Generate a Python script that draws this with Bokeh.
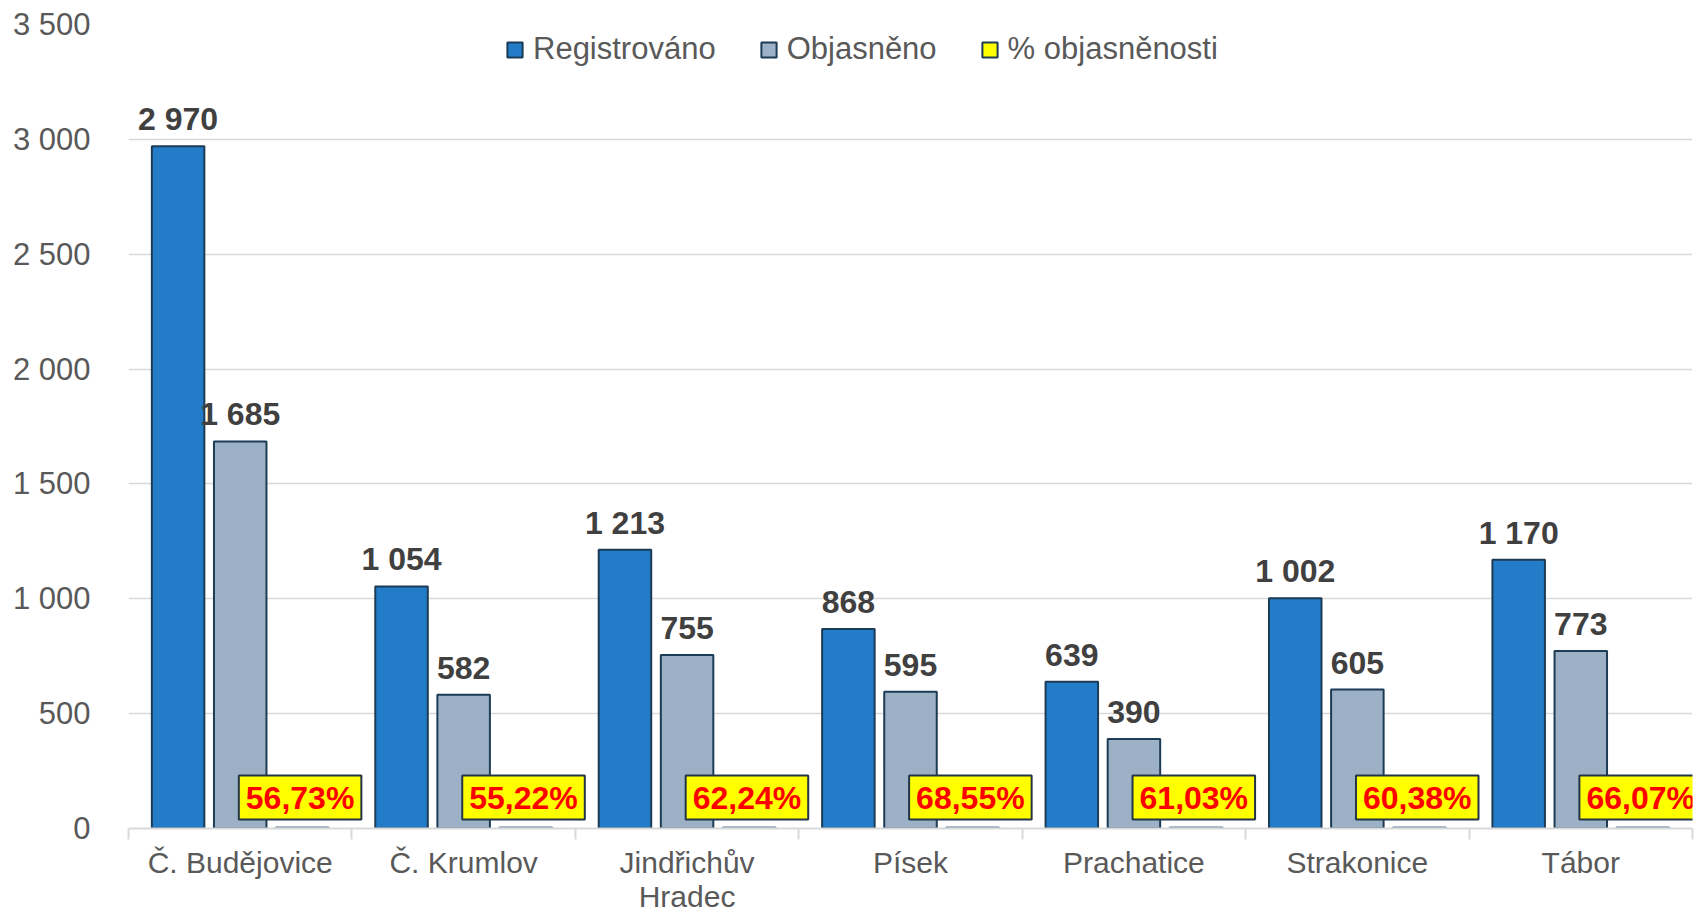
from bokeh.plotting import figure
from bokeh.models import ColumnDataSource, FixedTicker, LabelSet, Legend, LegendItem
from bokeh.core.properties import value
from bokeh.transform import dodge
from bokeh.embed import file_html
from bokeh.resources import INLINE

categories = ["Č. Budějovice", "Č. Krumlov", "Jindřichův\nHradec", "Písek",
              "Prachatice", "Strakonice", "Tábor"]
registrovano = [2970, 1054, 1213, 868, 639, 1002, 1170]
objasneno = [1685, 582, 755, 595, 390, 605, 773]
pct_objasnenosti = [56.73, 55.22, 62.24, 68.55, 61.03, 60.38, 66.07]
y_ticks = [0, 500, 1000, 1500, 2000, 2500, 3000, 3500]
y_tick_labels = ["0", "500", "1 000", "1 500", "2 000", "2 500", "3 000", "3 500"]
series_names = ["Registrováno", "Objasněno", "% objasněnosti"]

FONT = "Liberation Sans"

def fmt_int(v):
    return f"{v:,}".replace(",", " ")

def fmt_pct(v):
    return f"{v:.2f}".replace(".", ",") + "%"

xs = [i + 0.5 for i in range(len(categories))]
src = ColumnDataSource(dict(
    x=xs,
    reg=registrovano,
    obj=objasneno,
    pct=[v / 100 for v in pct_objasnenosti],
    reg_lbl=[fmt_int(v) for v in registrovano],
    obj_lbl=[fmt_int(v) for v in objasneno],
    pct_lbl=[fmt_pct(v) for v in pct_objasnenosti],
    zero=[0] * len(categories),
))

p = figure(width=1703, height=916, x_range=(0, len(categories)), y_range=(0, 3500),
           output_backend="svg", toolbar_location=None,
           min_border_left=128, min_border_right=11, min_border_top=24, min_border_bottom=87)
p.outline_line_color = None
p.background_fill_color = "white"
p.border_fill_color = "white"

W = 0.235
D = 0.278
r_reg = p.vbar(x=dodge("x", -D), top="reg", width=W, source=src,
               fill_color="#237cc8", line_color="#1c3b55", line_width=2)
r_obj = p.vbar(x=dodge("x", 0), top="obj", width=W, source=src,
               fill_color="#9db1c6", line_color="#1c3b55", line_width=2)
# legend proxy for the percentage series (drawn underneath the visible strip)
r_pct_leg = p.vbar(x=dodge("x", D), top="pct", width=W, source=src,
                   fill_color="#ffff00", line_color="#1c3b55", line_width=2)
r_pct = p.vbar(x=dodge("x", D), top="pct", width=W, source=src,
               fill_color="#ffff00", line_color="#8fa2b6", line_width=4)

# axes
p.xaxis.ticker = FixedTicker(ticks=xs, minor_ticks=list(range(len(categories) + 1)))
p.xaxis.major_label_overrides = {x: c for x, c in zip(xs, categories)}
p.xaxis.axis_line_color = "#d9d9d9"
p.xaxis.axis_line_width = 2
p.xaxis.major_tick_line_color = None
p.xaxis.minor_tick_line_color = "#d9d9d9"
p.xaxis.minor_tick_line_width = 2
p.xaxis.minor_tick_in = 0
p.xaxis.minor_tick_out = 11
p.xaxis.major_label_standoff = 6
p.xaxis.major_label_text_font = FONT
p.xaxis.major_label_text_font_size = "30px"
p.xaxis.major_label_text_color = "#595959"
p.xaxis.major_label_text_line_height = 1.05

p.yaxis.ticker = FixedTicker(ticks=y_ticks)
p.yaxis.major_label_overrides = {t: l for t, l in zip(y_ticks, y_tick_labels)}
p.yaxis.axis_line_color = None
p.yaxis.major_tick_line_color = None
p.yaxis.minor_tick_line_color = None
p.yaxis.major_label_standoff = 32
p.yaxis.major_label_text_font = FONT
p.yaxis.major_label_text_font_size = "31px"
p.yaxis.major_label_text_color = "#595959"

p.xgrid.grid_line_color = None
p.ygrid.grid_line_color = "#d9d9d9"
p.ygrid.grid_line_width = 1.5

# value labels
for field, lbl, off in [("reg", "reg_lbl", -D), ("obj", "obj_lbl", 0)]:
    p.add_layout(LabelSet(x=dodge("x", off), y=field, text=lbl, source=src,
                          text_align="center", text_baseline="alphabetic", y_offset=16,
                          text_font=value(FONT), text_font_size="32px", text_font_style="bold",
                          text_color="#404040"))

p.text(x=dodge("x", D - 0.01), y="zero", text="pct_lbl", source=src,
       text_align="center", text_baseline="middle", y_offset=-31,
       text_font=value(FONT), text_font_size="32px", text_font_style="bold",
       text_color="#ff0000", background_fill_color="#ffff00",
       border_line_color="#243447", border_line_width=2,
       padding=dict(left=7, right=7, top=4, bottom=4))

legend = Legend(items=[LegendItem(label=series_names[0], renderers=[r_reg]),
                       LegendItem(label=series_names[1], renderers=[r_obj]),
                       LegendItem(label=series_names[2], renderers=[r_pct_leg])],
                location=(377, 761), orientation="horizontal",
                glyph_width=19, glyph_height=19, label_standoff=9, spacing=43,
                padding=0, margin=0, border_line_color=None, background_fill_alpha=0,
                label_text_font=FONT, label_text_font_size="31px",
                label_text_color="#595959")
p.add_layout(legend, "center")

open("out.html", "w").write(file_html(p, INLINE))
